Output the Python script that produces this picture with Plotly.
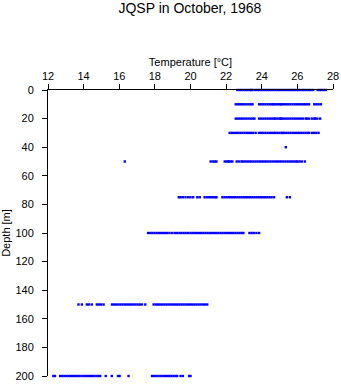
import plotly.graph_objects as go

# Temperature readings (deg C) grouped by sampling depth (m)
temp_0 = [22.63, 22.75, 22.86, 22.98, 23.10, 23.21, 23.33, 23.42, 23.48,
          23.62, 23.74, 23.85, 23.97, 24.08, 24.20, 24.31, 24.43, 24.55, 24.66,
          24.78, 24.90, 25.01, 25.13, 25.24, 25.36, 25.48, 25.59, 25.71, 25.82,
          25.94, 26.06, 26.17, 26.29, 26.40, 26.52, 26.64, 26.75, 26.89,
          27.14, 27.26, 27.37, 27.49, 27.61]
temp_10 = [22.54, 22.66, 22.78, 22.90, 23.02, 23.14, 23.26, 23.38, 23.48,
           23.85, 23.97, 24.09, 24.21, 24.33, 24.45, 24.57, 24.66,
           24.73, 24.85, 24.97, 25.07,
           25.13, 25.25, 25.37, 25.49, 25.61, 25.73, 25.85, 25.97, 26.09, 26.21,
           26.33, 26.42, 26.54, 26.66, 26.95, 27.07, 27.19, 27.32]
temp_20 = [22.54, 22.66, 22.78, 22.90, 23.02, 23.14, 23.26, 23.38, 23.50, 23.59,
           23.85, 23.97, 24.09, 24.21, 24.33, 24.45, 24.57, 24.69,
           24.75, 24.87, 24.99, 25.07,
           25.13, 25.25, 25.37, 25.49, 25.61, 25.73, 25.85, 25.97, 26.09, 26.21,
           26.33, 26.48, 26.54, 26.66, 26.82, 26.95, 27.00, 27.12, 27.28]
temp_30 = [22.20, 22.32, 22.44, 22.56, 22.68, 22.80, 22.92, 23.04, 23.16, 23.28,
           23.40, 23.52, 23.66,
           23.85, 23.97, 24.09, 24.21, 24.33, 24.45, 24.57, 24.69,
           24.75, 24.87, 24.99, 25.11, 25.17,
           25.26, 25.38, 25.50, 25.62, 25.74, 25.86, 25.98, 26.10, 26.22, 26.34,
           26.46, 26.58, 26.66, 26.82, 26.94, 27.06, 27.19]
temp_40 = [25.35]
temp_50 = [16.31,
           21.13, 21.25, 21.37, 21.46,
           21.92, 22.02, 22.10, 22.16, 22.26, 22.35,
           22.59, 22.71, 22.86,
           22.93, 23.05, 23.17, 23.29, 23.41, 23.53, 23.65, 23.77, 23.89, 24.01,
           24.13, 24.25, 24.37, 24.49, 24.61, 24.73, 24.85, 24.97, 25.09, 25.21,
           25.33, 25.45, 25.57, 25.69, 25.81, 25.93,
           26.01, 26.13, 26.25, 26.42]
temp_75 = [19.34, 19.45, 19.57, 19.72, 19.87, 20.00, 20.15, 20.38, 20.52,
           20.79, 20.91, 21.03, 21.15, 21.27, 21.39, 21.46,
           21.79, 21.91, 22.03, 22.15, 22.27, 22.39, 22.51, 22.63, 22.75, 22.87,
           22.99, 23.11, 23.23, 23.35, 23.47, 23.59, 23.71, 23.83, 23.95, 24.07,
           24.19, 24.31, 24.43, 24.55, 24.69,
           25.41, 25.58]
temp_100 = [17.62, 17.74, 17.86, 17.98, 18.10, 18.22, 18.34, 18.46, 18.58, 18.69,
            18.82, 18.97, 19.12, 19.25, 19.38, 19.49, 19.61, 19.73, 19.87,
            20.00, 20.12, 20.24, 20.36, 20.48, 20.60, 20.72, 20.84, 20.96, 21.08,
            21.20, 21.32, 21.44, 21.56, 21.68, 21.80, 21.92, 22.04, 22.16, 22.28,
            22.40, 22.52, 22.64, 22.76, 22.88, 22.97,
            23.31, 23.43, 23.55, 23.70, 23.85]
temp_150 = [13.71, 13.90, 14.18, 14.30, 14.46, 14.74, 14.86, 14.98, 15.12,
            15.59, 15.71, 15.83, 15.95, 16.07, 16.19, 16.31, 16.43, 16.55, 16.67,
            16.79, 16.91, 17.03, 17.15, 17.27, 17.46,
            17.93, 18.05, 18.17, 18.29, 18.41, 18.53, 18.65, 18.77, 18.89, 19.01,
            19.13, 19.25, 19.37, 19.49, 19.61, 19.73, 19.85, 19.97, 20.09, 20.21,
            20.33, 20.45, 20.57, 20.69, 20.81, 20.94]
temp_200 = [12.30, 12.39,
            12.68, 12.80, 12.92, 13.04, 13.16, 13.28, 13.40, 13.52, 13.64, 13.76,
            13.88, 14.00, 14.12, 14.24, 14.36, 14.48, 14.60, 14.72, 14.84, 14.93,
            15.24, 15.58, 15.93, 16.02, 16.52,
            17.84, 17.96, 18.08, 18.20, 18.32, 18.44, 18.56, 18.68, 18.80, 18.92,
            19.04, 19.16, 19.25, 19.44, 19.57, 19.92, 20.00]

depths = [0, 10, 20, 30, 40, 50, 75, 100, 150, 200]
profiles = [temp_0, temp_10, temp_20, temp_30, temp_40, temp_50,
            temp_75, temp_100, temp_150, temp_200]

x_ticks = [12, 14, 16, 18, 20, 22, 24, 26, 28]
y_ticks = [0, 20, 40, 60, 80, 100, 120, 140, 160, 180, 200]

xs, ys = [], []
for d, temps in zip(depths, profiles):
    xs.extend(temps)
    ys.extend([d] * len(temps))

FONT = "Liberation Sans, Arial, Helvetica, sans-serif"

fig = go.Figure(
    go.Scatter(
        x=xs, y=ys, mode="markers", cliponaxis=False,
        marker=dict(symbol="square", size=2.4, color="#0000ff", line=dict(width=0)),
        hoverinfo="x+y",
    )
)

axis_common = dict(
    showgrid=False, zeroline=False, showline=True, linecolor="black",
    linewidth=1, ticks="outside", ticklen=5, tickcolor="black", tickwidth=1,
    automargin=False,
    tickfont=dict(family=FONT, size=11, color="black"),
)

fig.update_layout(
    width=341, height=384,
    margin=dict(l=48, r=8, t=90, b=8),
    paper_bgcolor="white", plot_bgcolor="white",
    showlegend=False,
    title=dict(text="JQSP in October, 1968", x=0.557, xanchor="center",
               y=0.978, yanchor="middle",
               font=dict(family=FONT, size=14, color="black")),
    xaxis=dict(
        **axis_common, side="top", range=[12, 28], tickvals=x_ticks,
        ticklabelstandoff=0,
        title=dict(text="Temperature [°C]", standoff=0,
                   font=dict(family=FONT, size=11, color="black")),
    ),
    yaxis=dict(
        **axis_common, range=[200, 0], tickvals=y_ticks,
        ticklabelstandoff=6,
        title=dict(text="Depth [m]", standoff=4,
                   font=dict(family=FONT, size=11, color="black")),
    ),
)

fig.write_html("out.html")
